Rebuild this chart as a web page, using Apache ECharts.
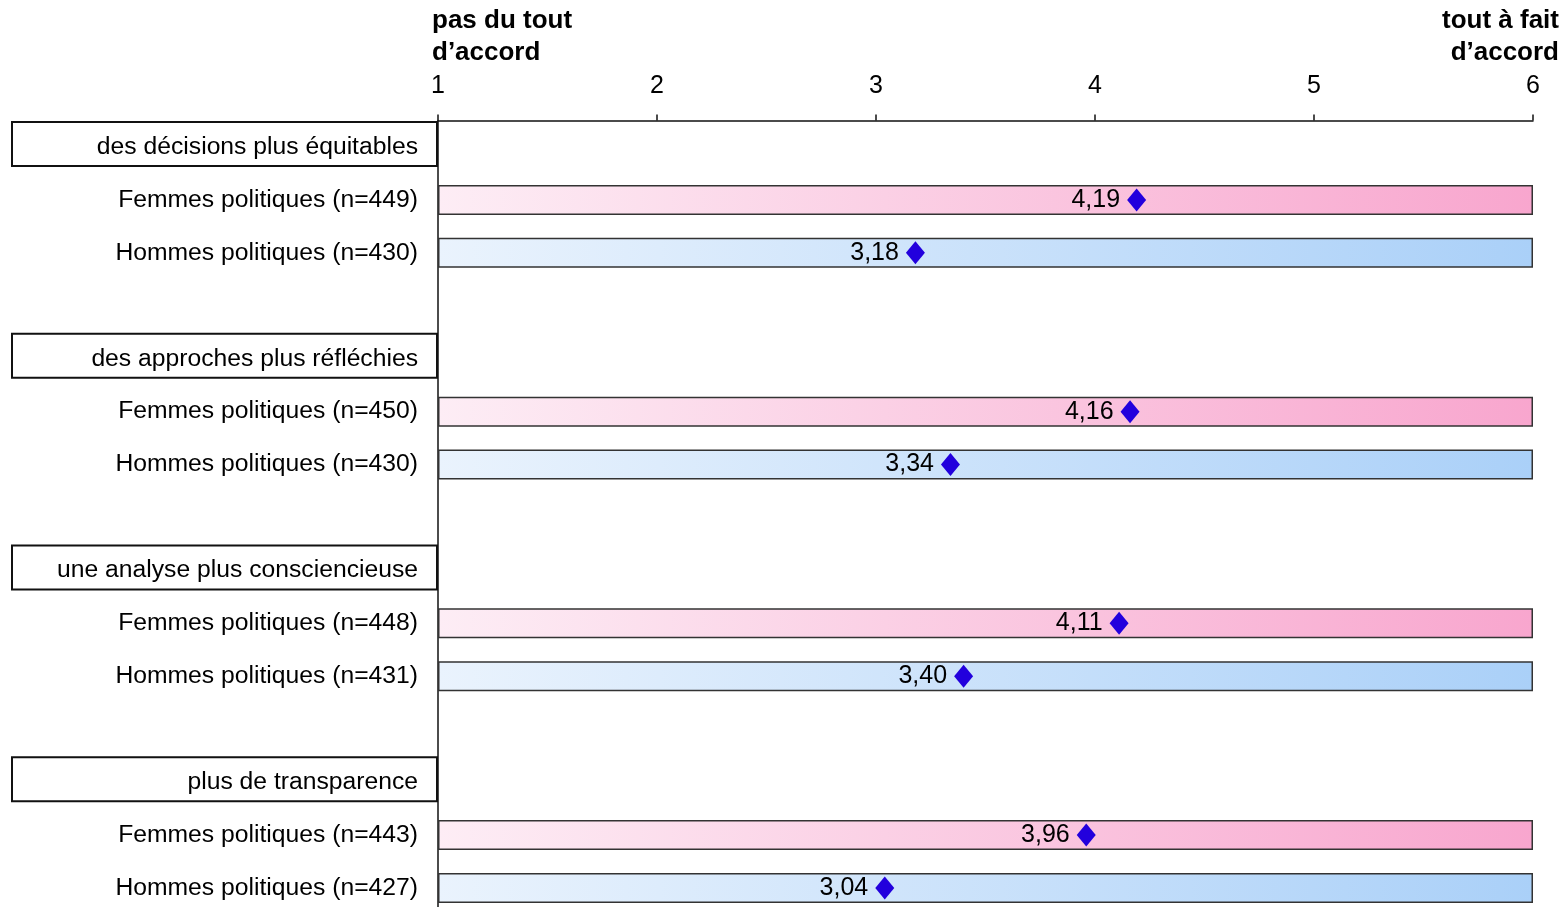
<!DOCTYPE html>
<html>
<head>
<meta charset="utf-8">
<script src="https://cdn.jsdelivr.net/npm/echarts@6/dist/echarts.min.js"></script>
<style>
html,body{margin:0;padding:0;background:#fff;}
#chart{width:1568px;height:907px;}
</style>
</head>
<body>
<div id="chart"></div>
<script>
// ---- data ----
const groups = ['des décisions plus équitables', 'des approches plus réfléchies', 'une analyse plus consciencieuse', 'plus de transparence'];
const femmesN = [449, 450, 448, 443];
const hommesN = [430, 430, 431, 427];
const femmesMean = [4.19, 4.16, 4.11, 3.96];
const hommesMean = [3.18, 3.34, 3.40, 3.04];
const scaleMin = 1;
const scaleMax = 6;
const lowLabel = ['pas du tout', 'd’accord'];
const highLabel = ['tout à fait', 'd’accord'];

// ---- build rows ----
const rows = [];
groups.forEach((g, i) => {
  rows.push({type: 'h', label: g});
  rows.push({type: 'f', label: 'Femmes politiques (n=' + femmesN[i] + ')', mean: femmesMean[i]});
  rows.push({type: 'm', label: 'Hommes politiques (n=' + hommesN[i] + ')', mean: hommesMean[i]});
  if (i < groups.length - 1) rows.push({type: 's', label: ''});
});

const FONT = '"Liberation Sans", Arial, Helvetica, sans-serif';
const pinkGrad = new echarts.graphic.LinearGradient(0, 0, 1, 0, [
  {offset: 0, color: '#fdedf5'}, {offset: 1, color: '#f8a6ce'}]);
const blueGrad = new echarts.graphic.LinearGradient(0, 0, 1, 0, [
  {offset: 0, color: '#eaf3fd'}, {offset: 1, color: '#aad0f8'}]);

const baseData = rows.map(r => (r.type === 'f' || r.type === 'm') ? scaleMin : '-');
const spanData = rows.map(r => {
  if (r.type === 'f') return {value: scaleMax - scaleMin, itemStyle: {color: pinkGrad}};
  if (r.type === 'm') return {value: scaleMax - scaleMin, itemStyle: {color: blueGrad}};
  return '-';
});
const meanData = [];
rows.forEach((r, i) => { if (r.mean != null) meanData.push([r.mean, i]); });

const titleFont = 'bold 26px ' + FONT;
const chart = echarts.init(document.getElementById('chart'), null, {renderer: 'canvas'});
chart.setOption({
  animation: false,
  backgroundColor: '#fff',
  textStyle: {fontFamily: FONT},
  graphic: [
    {type: 'text', left: 432, top: 8, z: 10, style: {text: lowLabel[0], font: titleFont, fill: '#000'}},
    {type: 'text', left: 432, top: 40, z: 10, style: {text: lowLabel[1], font: titleFont, fill: '#000'}},
    {type: 'text', right: 9, top: 8, z: 10, style: {text: highLabel[0], font: titleFont, fill: '#000'}},
    {type: 'text', right: 9, top: 40, z: 10, style: {text: highLabel[1], font: titleFont, fill: '#000'}}
  ],
  grid: {left: 438, right: 35, top: 120.5, bottom: -7.5, outerBoundsMode: 'none', containLabel: false},
  xAxis: {
    type: 'value', position: 'top', min: scaleMin, max: scaleMax, interval: 1,
    axisLine: {show: true, lineStyle: {color: '#111', width: 1.5}},
    axisTick: {show: true, length: 6, lineStyle: {color: '#111', width: 1.5}},
    axisLabel: {fontSize: 25, color: '#000', margin: 22, fontFamily: FONT},
    splitLine: {show: false}
  },
  yAxis: {
    type: 'category', inverse: true,
    data: rows.map((r, i) => 'r' + i),
    axisLine: {show: true, lineStyle: {color: '#111', width: 1.5}},
    axisTick: {show: false},
    axisLabel: {
      margin: 1, interval: 0,
      formatter: (v, i) => {
        const r = rows[i];
        if (!r || r.type === 's') return '';
        return r.type === 'h' ? '{h|' + r.label + '}' : '{r|' + r.label + '}';
      },
      rich: {
        h: {fontSize: 24.7, color: '#000', fontFamily: FONT, width: 406, height: 38, lineHeight: 50,
            verticalAlign: 'top',
            borderColor: '#111', borderWidth: 2, align: 'right', padding: [6, 19, 0, 0]},
        r: {fontSize: 24.7, color: '#000', fontFamily: FONT, padding: [0, 19, 0, 0]}
      }
    },
    splitLine: {show: false}
  },
  series: [
    {type: 'bar', stack: 'range', data: baseData, barWidth: 30, silent: true,
     itemStyle: {color: 'rgba(0,0,0,0)', borderWidth: 0}},
    {type: 'bar', stack: 'range', data: spanData, barWidth: 30, silent: true,
     itemStyle: {borderColor: '#333', borderWidth: 1.5}},
    {type: 'scatter', data: meanData, symbol: 'diamond', symbolSize: [19, 23], z: 5,
     itemStyle: {color: '#2200dd', opacity: 1},
     label: {show: true, position: 'left', distance: 7, fontSize: 25, color: '#000', fontFamily: FONT,
             formatter: p => p.value[0].toFixed(2).replace('.', ',')}}
  ]
});
</script>
</body>
</html>
